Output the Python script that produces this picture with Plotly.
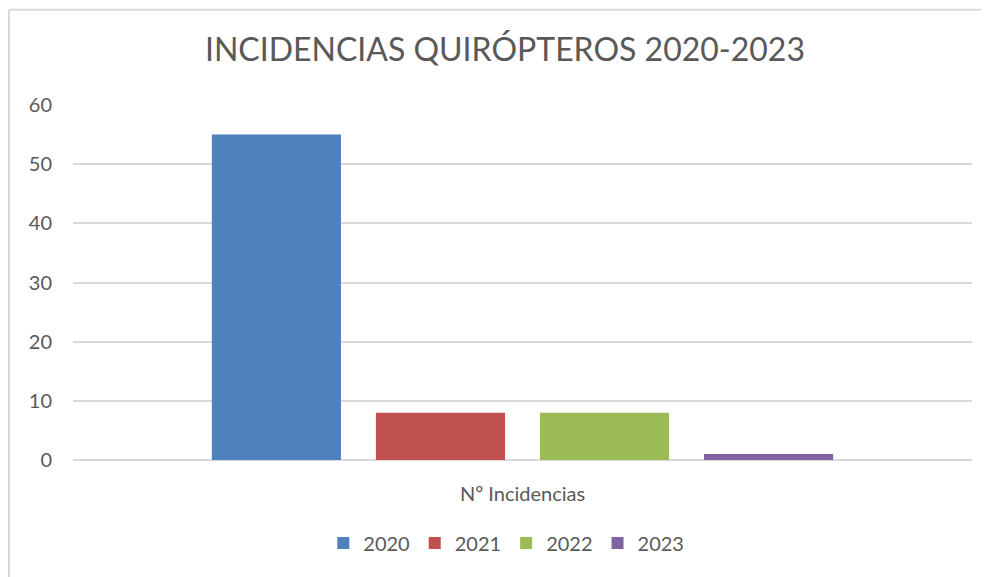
import plotly.graph_objects as go

# Dati
categorie = ["Nº Incidencias"]
anni = ["2020", "2021", "2022", "2023"]
valori = [55, 8, 8, 1]
colori = ["#4F81BD", "#C0504D", "#9BBB59", "#8064A2"]
y_ticks = [0, 10, 20, 30, 40, 50, 60]

font_fam = "Lato, Noto Sans, sans-serif"
grigio = "#595959"
linea = "#D9D9D9"

fig = go.Figure()
for anno, v, c in zip(anni, valori, colori):
    fig.add_trace(go.Bar(x=categorie, y=[v], name=anno, marker=dict(color=c, line=dict(width=0))))

# la pagina ha un margine di 8px, quindi i margini sono compensati
fig.update_layout(
    width=989, height=577,
    margin=dict(l=65, r=25, t=97, b=125),
    paper_bgcolor="white", plot_bgcolor="white",
    barmode="group", bargap=0.27, bargroupgap=0.213,
    font=dict(family=font_fam, color=grigio),
    title=dict(text="INCIDENCIAS QUIRÓPTEROS 2020-2023", x=0.5025, xanchor="center",
               y=0.927, yanchor="middle", xref="container", yref="container",
               font=dict(size=32, color=grigio, family=font_fam)),
    legend=dict(orientation="h", x=0.482, xanchor="center", y=-0.234, yanchor="middle",
                font=dict(size=20, color=grigio), itemwidth=30, traceorder="normal"),
    showlegend=True,
)
fig.update_xaxes(showgrid=False, showline=False, ticks="", tickfont=dict(size=20, color=grigio),
                 ticklabelstandoff=20)
fig.update_yaxes(range=[0, 60], tickvals=y_ticks, showgrid=True, gridcolor=linea, gridwidth=1.5,
                 zeroline=True, zerolinecolor=linea, zerolinewidth=1.5, showline=False,
                 tickfont=dict(size=20, color=grigio), ticklabelstandoff=20)

# Bordo del grafico (parzialmente tagliato)
fig.add_shape(type="line", xref="paper", yref="paper", x0=-0.0712, x1=1.2, y0=1.268, y1=1.268,
              line=dict(color=linea, width=2))
fig.add_shape(type="line", xref="paper", yref="paper", x0=-0.0712, x1=-0.0712, y0=1.268, y1=-0.5,
              line=dict(color=linea, width=2))

fig.write_html("out.html")
